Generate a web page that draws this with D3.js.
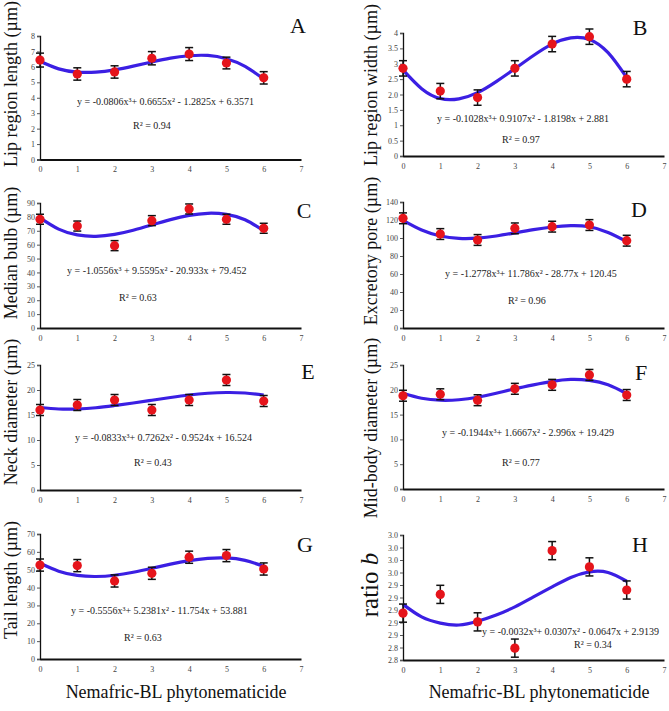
<!DOCTYPE html>
<html>
<head>
<meta charset="utf-8">
<script src="https://cdn.jsdelivr.net/npm/d3@7"></script>
<style>
  body { margin: 0; background: #fff; }
  text { font-family: "Liberation Serif", "Times New Roman", serif; }
</style>
</head>
<body>
<svg id="figure"></svg>
<script>
var fullWidth = 669;
var fullHeight = 711;

// x positions are the same for every panel
var doses = [0, 1, 2, 3, 4, 5, 6];
var trendX = [0, 0.5, 1, 1.5, 2, 2.5, 3, 3.5, 4, 4.5, 5, 5.5, 6];
var xTicks = [0, 1, 2, 3, 4, 5, 6, 7];

// A - lip region length
var lipLengthMean = [6.44, 5.54, 5.67, 6.56, 6.83, 6.25, 5.29];
var lipLengthErr = [0.45, 0.4, 0.4, 0.43, 0.42, 0.38, 0.4];
var lipLengthTrend = [6.36, 5.87, 5.66, 5.66, 5.81, 6.05, 6.32, 6.57, 6.72, 6.74, 6.53, 6.03, 5.21];

// B - lip region width
var lipWidthMean = [2.85, 2.11, 1.9, 2.85, 3.64, 3.88, 2.5];
var lipWidthErr = [0.25, 0.25, 0.25, 0.25, 0.25, 0.25, 0.25];
var lipWidthTrend = [2.8, 2.19, 1.87, 1.86, 2.06, 2.42, 2.84, 3.27, 3.64, 3.84, 3.79, 3.36, 2.55];
var lipWidthTicks = [0, 0.5, 1, 1.5, 2, 2.5, 3, 3.5, 4];
var lipWidthLabels = ["0", "0.5", "1", "1.5", "2.0", "2.5", "3", "3.5", "4"];

// C - median bulb
var bulbMean = [78.3, 73.4, 59.3, 77.3, 85.7, 78.3, 71.8];
var bulbErr = [3.6, 3.6, 3.6, 3.6, 3.6, 3.6, 3.6];
var bulbTrend = [79.3, 71.2, 67.0, 66.0, 67.4, 70.4, 74.2, 78.0, 81.1, 82.6, 81.8, 77.9, 70.0];

// D - excretory pore
var poreMean = [121.9, 104.4, 97.8, 110.7, 112.6, 114.4, 97.0];
var poreErr = [6, 6, 6, 6, 6, 6, 6];
var poreTrend = [119.5, 108.8, 102.2, 99.5, 99.8, 102.2, 105.7, 109.3, 112.2, 113.8, 112.5, 106.2, 96.1];

// E - neck diameter
var neckMean = [16.0, 17.0, 18.0, 16.0, 18.0, 22.0, 17.8];
var neckErr = [1.1, 1.1, 1.1, 1.1, 1.1, 1.1, 1.1];
var neckTrend = [16.5, 16.2, 16.2, 16.45, 16.9, 17.4, 17.95, 18.5, 19.0, 19.35, 19.5, 19.4, 19.0];

// F - mid-body diameter
var midBodyMean = [18.8, 19.1, 17.9, 20.2, 21.0, 23.0, 18.95];
var midBodyErr = [1.1, 1.1, 1.1, 1.1, 1.1, 1.1, 1.1];
var midBodyTrend = [19.3, 18.3, 17.9, 18.0, 18.5, 19.3, 20.2, 21.0, 21.7, 22.1, 21.9, 21.0, 19.2];

// G - tail length
var tailMean = [52.6, 52.3, 43.7, 48.0, 57.0, 57.9, 50.4];
var tailErr = [3.4, 3.4, 3.4, 3.4, 3.4, 3.4, 3.4];
var tailTrend = [53.6, 49.2, 46.8, 46.2, 46.9, 48.6, 50.8, 53.1, 55.1, 56.4, 56.6, 55.2, 51.9];

// H - ratio b
var ratioMean = [2.875, 2.905, 2.861, 2.819, 2.975, 2.949, 2.912];
var ratioErr = [0.0145, 0.0145, 0.0145, 0.0145, 0.0145, 0.0145, 0.0145];
var ratioTrend = [2.889, 2.869, 2.859, 2.856, 2.862, 2.872, 2.885, 2.901, 2.917, 2.932, 2.941, 2.94, 2.926];
var ratioTicks = [2.8, 2.82, 2.84, 2.86, 2.88, 2.9, 2.92, 2.94, 2.96, 2.98, 3.0];
var ratioLabels = ["2.8", "2.8", "2.9", "2.9", "2.9", "2.9", "2.9", "3.0", "3.0", "3.0", "3.0"];

var panels = [
  {letter: "A", title: "Lip region length (\u00b5m)", mean: lipLengthMean, err: lipLengthErr, trend: lipLengthTrend,
   domain: [0, 8], ticks: d3.range(0, 9, 1), left: 40, right: 301, top: 36, bottom: 159.5,
   titleX: 17, titleY: 84, letterX: 298, letterY: 33,
   eq: "y = -0.0806x\u00b3+ 0.6655x\u00b2 - 1.2825x + 6.3571", eqX: 77, eqY: 105, r2: "R\u00b2 = 0.94", r2X: 133, r2Y: 129},
  {letter: "B", title: "Lip region width (\u00b5m)", mean: lipWidthMean, err: lipWidthErr, trend: lipWidthTrend,
   domain: [0, 4], ticks: lipWidthTicks, labels: lipWidthLabels, left: 403, right: 664, top: 33, bottom: 156,
   titleX: 377, titleY: 85, letterX: 640, letterY: 35,
   eq: "y = -0.1028x\u00b3+ 0.9107x\u00b2 - 1.8198x + 2.881", eqX: 437, eqY: 122, r2: "R\u00b2 = 0.97", r2X: 502, r2Y: 143},
  {letter: "C", title: "Median bulb (\u00b5m)", mean: bulbMean, err: bulbErr, trend: bulbTrend,
   domain: [0, 90], ticks: d3.range(0, 91, 10), left: 40, right: 301, top: 203, bottom: 328,
   titleX: 17, titleY: 253, letterX: 304, letterY: 218,
   eq: "y = -1.0556x\u00b3 + 9.5595x\u00b2 - 20.933x + 79.452", eqX: 67, eqY: 274, r2: "R\u00b2 = 0.63", r2X: 119, r2Y: 301},
  {letter: "D", title: "Excretory pore (\u00b5m)", mean: poreMean, err: poreErr, trend: poreTrend,
   domain: [0, 140], ticks: d3.range(0, 141, 20), left: 403, right: 664, top: 202, bottom: 328,
   titleX: 377, titleY: 251, letterX: 639, letterY: 217,
   eq: "y = -1.2778x\u00b3+ 11.786x\u00b2 - 28.77x + 120.45", eqX: 445, eqY: 277, r2: "R\u00b2 = 0.96", r2X: 508, r2Y: 304},
  {letter: "E", title: "Neck diameter (\u00b5m)", mean: neckMean, err: neckErr, trend: neckTrend,
   domain: [0, 25], ticks: d3.range(0, 26, 5), left: 40, right: 301, top: 365, bottom: 490,
   titleX: 17, titleY: 412, letterX: 308, letterY: 379,
   eq: "y = -0.0833x\u00b3+ 0.7262x\u00b2 - 0.9524x + 16.524", eqX: 75, eqY: 441, r2: "R\u00b2 = 0.43", r2X: 134, r2Y: 466},
  {letter: "F", title: "Mid-body diameter (\u00b5m)", mean: midBodyMean, err: midBodyErr, trend: midBodyTrend,
   domain: [0, 25], ticks: d3.range(0, 26, 5), left: 403, right: 664, top: 365, bottom: 489,
   titleX: 377, titleY: 428, letterX: 641, letterY: 380,
   eq: "y = -0.1944x\u00b3+ 1.6667x\u00b2 - 2.996x + 19.429", eqX: 442, eqY: 436, r2: "R\u00b2 = 0.77", r2X: 502, r2Y: 466},
  {letter: "G", title: "Tail length (\u00b5m)", mean: tailMean, err: tailErr, trend: tailTrend,
   domain: [0, 70], ticks: d3.range(0, 71, 10), left: 40, right: 301, top: 534, bottom: 659,
   titleX: 17, titleY: 580, letterX: 305, letterY: 552,
   eq: "y = -0.5556x\u00b3+ 5.2381x\u00b2 - 11.754x + 53.881", eqX: 71, eqY: 614, r2: "R\u00b2 = 0.63", r2X: 124, r2Y: 641},
  {letter: "H", title: "ratio ", italic: "b", mean: ratioMean, err: ratioErr, trend: ratioTrend,
   domain: [2.8, 3.0], ticks: ratioTicks, labels: ratioLabels, left: 403, right: 664, top: 535, bottom: 660,
   titleX: 378, titleY: 585, titleSize: 25, letterX: 640, letterY: 552,
   eq: "y = -0.0032x\u00b3+ 0.0307x\u00b2 - 0.0647x + 2.9139", eqX: 482, eqY: 635, r2: "R\u00b2 = 0.34", r2X: 574, r2Y: 648}
];

var svg = d3.select("#figure")
    .attr("width", fullWidth)
    .attr("height", fullHeight)
    .style("background", "#fff");

panels.forEach(function (p) {
  var xRange = d3.scaleLinear().domain([0, 7]).range([p.left, p.right]);
  var yRange = d3.scaleLinear().domain(p.domain).range([p.bottom, p.top]);
  var g = svg.append("g");

  // y axis
  var yAxis = d3.axisLeft(yRange).tickValues(p.ticks).tickSize(3).tickPadding(2);
  if (p.labels) yAxis.tickFormat(function (d, i) { return p.labels[i]; });
  var ya = g.append("g").attr("transform", "translate(" + p.left + ",0)").call(yAxis);
  ya.select(".domain").attr("stroke", "#111").attr("stroke-width", 1.3);
  ya.selectAll(".tick line").attr("stroke", "#555");
  ya.selectAll(".tick text").attr("font-size", 8).attr("fill", "#444")
      .attr("font-family", "'Liberation Serif', serif");

  // x axis
  var xAxis = d3.axisBottom(xRange).tickValues(xTicks).tickSize(0).tickPadding(7).tickFormat(d3.format("d"));
  var xa = g.append("g").attr("transform", "translate(0," + p.bottom + ")").call(xAxis);
  xa.select(".domain").attr("stroke", "#111").attr("stroke-width", 2);
  xa.selectAll(".tick text").attr("font-size", 8).attr("fill", "#444")
      .attr("font-family", "'Liberation Serif', serif");

  // trend line
  var line = d3.line()
      .x(function (d, i) { return xRange(trendX[i]); })
      .y(function (d) { return yRange(d); })
      .curve(d3.curveNatural);
  g.append("path").attr("d", line(p.trend))
      .attr("fill", "none").attr("stroke", "#3b1fe3").attr("stroke-width", 3.2);

  // error bars
  var bars = g.selectAll(".eb").data(p.mean).enter().append("g");
  bars.append("line")
      .attr("x1", function (d, i) { return xRange(doses[i]); })
      .attr("x2", function (d, i) { return xRange(doses[i]); })
      .attr("y1", function (d, i) { return yRange(d - p.err[i]); })
      .attr("y2", function (d, i) { return yRange(d + p.err[i]); })
      .attr("stroke", "#111").attr("stroke-width", 1.5);
  [-1, 1].forEach(function (s) {
    bars.append("line")
        .attr("x1", function (d, i) { return xRange(doses[i]) - 4; })
        .attr("x2", function (d, i) { return xRange(doses[i]) + 4; })
        .attr("y1", function (d, i) { return yRange(d + s * p.err[i]); })
        .attr("y2", function (d, i) { return yRange(d + s * p.err[i]); })
        .attr("stroke", "#111").attr("stroke-width", 1.5);
  });

  // points
  g.selectAll(".pt").data(p.mean).enter().append("circle")
      .attr("cx", function (d, i) { return xRange(doses[i]); })
      .attr("cy", function (d) { return yRange(d); })
      .attr("r", 4.6)
      .attr("fill", "#e5141b");

  // equation & R2
  g.append("text").attr("x", p.eqX).attr("y", p.eqY).attr("font-size", 10).attr("fill", "#222").text(p.eq);
  g.append("text").attr("x", p.r2X).attr("y", p.r2Y).attr("font-size", 10).attr("fill", "#222").text(p.r2);

  // panel letter
  g.append("text").attr("x", p.letterX).attr("y", p.letterY).attr("text-anchor", "middle")
      .attr("font-size", 22).attr("fill", "#111").text(p.letter);

  // y title
  var t = g.append("text")
      .attr("transform", "translate(" + p.titleX + "," + p.titleY + ") rotate(-90)")
      .attr("text-anchor", "middle")
      .attr("font-size", p.titleSize || 18)
      .attr("fill", "#111")
      .text(p.title);
  if (p.italic) t.append("tspan").attr("font-style", "italic").text(p.italic);
});

// bottom labels
svg.append("text").attr("x", 176).attr("y", 698).attr("text-anchor", "middle")
    .attr("font-size", 18).attr("fill", "#111").text("Nemafric-BL phytonematicide");
svg.append("text").attr("x", 539).attr("y", 698).attr("text-anchor", "middle")
    .attr("font-size", 18).attr("fill", "#111").text("Nemafric-BL phytonematicide");
</script>
</body>
</html>
